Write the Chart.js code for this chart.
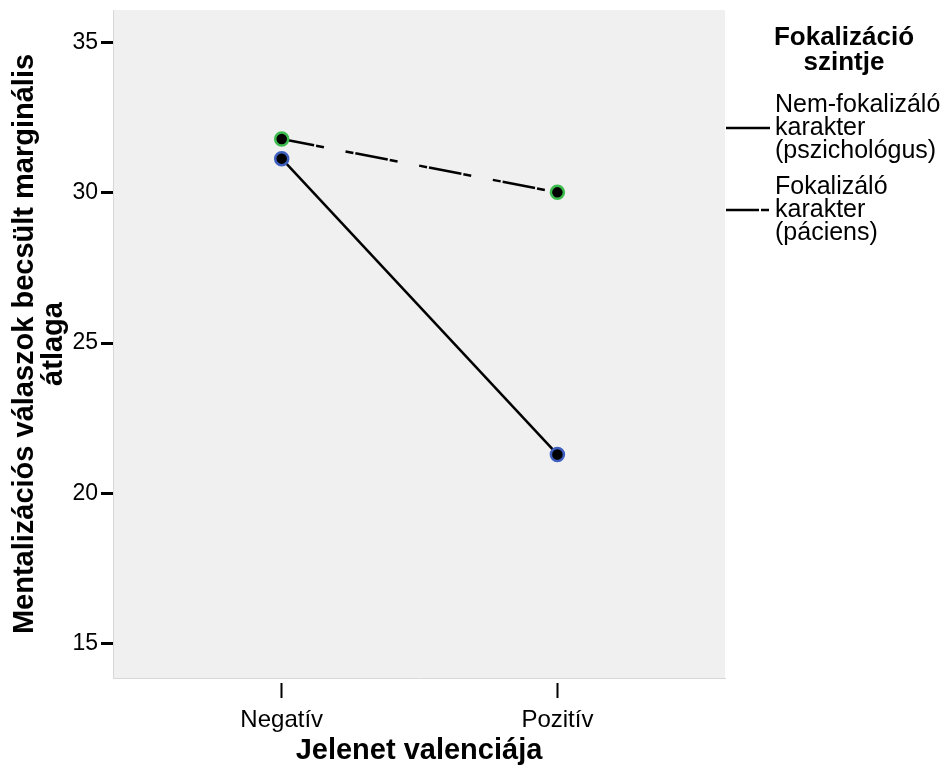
<!DOCTYPE html>
<html>
<head>
<meta charset="utf-8">
<script src="https://cdn.jsdelivr.net/npm/chart.js@4"></script>
<style>
  html, body { margin: 0; padding: 0; background: #fff; }
  #wrap { width: 946px; height: 776px; }
</style>
</head>
<body>
<div id="wrap"><canvas id="valenciaChart" width="946" height="776"></canvas></div>
<script>
// adatok
const kategoriak = ["Negatív", "Pozitív"];
const nemFokalizalo = [31.13, 21.3];
const fokalizalo = [31.78, 30.01];
const yTickek = [15, 20, 25, 30, 35];
const sorozatNevek = [
    ["Nem-fokalizáló", "karakter", "(pszichológus)"],
    ["Fokalizáló", "karakter", "(páciens)"]
];
const legendCim = ["Fokalizáció", "szintje"];

const betu = "'Liberation Sans', Arial, sans-serif";
const szaggatas = [33, 2, 8, 22, 8, 2];

function pontok(arr) {
    return arr.map((v, i) => ({ x: i, y: v }));
}

// szürke háttér a rajzterületnek
const hatter = {
    id: "hatter",
    beforeDraw(chart) {
        const { ctx, chartArea: a } = chart;
        ctx.save();
        ctx.fillStyle = "#f0f0f0";
        ctx.fillRect(a.left, a.top, a.right - a.left, a.bottom - a.top);
        ctx.restore();
    }
};

// jelmagyarázat jobb oldalon
const jelmagyarazat = {
    id: "jelmagyarazat",
    afterDraw(chart) {
        const ctx = chart.ctx;
        ctx.save();
        ctx.fillStyle = "#000";
        ctx.textBaseline = "middle";
        ctx.textAlign = "center";
        ctx.font = "bold 26px " + betu;
        legendCim.forEach((s, i) => ctx.fillText(s, 844, 38 + i * 25));

        ctx.textAlign = "left";
        ctx.font = "25px " + betu;
        chart.data.datasets.forEach((ds, i) => {
            const yk = 128 + i * 82;
            ctx.strokeStyle = "#000";
            ctx.lineWidth = 2.5;
            ctx.setLineDash(ds.borderDash || []);
            ctx.beginPath();
            ctx.moveTo(726, yk);
            ctx.lineTo(770, yk);
            ctx.stroke();
            ctx.setLineDash([]);
            sorozatNevek[i].forEach((s, j) => ctx.fillText(s, 775, yk + (j - 1) * 23));
        });
        ctx.restore();
    }
};

const vaszon = document.getElementById("valenciaChart");
new Chart(vaszon, {
    type: "line",
    data: {
        datasets: [{
            label: sorozatNevek[0].join(" "),
            data: pontok(nemFokalizalo),
            borderColor: "#000",
            borderWidth: 2.5,
            pointRadius: 6.5,
            pointBorderWidth: 2.5,
            pointBackgroundColor: "#000",
            pointBorderColor: "#3e5fbf",
            tension: 0
        }, {
            label: sorozatNevek[1].join(" "),
            data: pontok(fokalizalo),
            borderColor: "#000",
            borderWidth: 2.5,
            borderDash: szaggatas,
            pointRadius: 6.5,
            pointBorderWidth: 2.5,
            pointBackgroundColor: "#000",
            pointBorderColor: "#3cbc4c",
            tension: 0
        }]
    },
    options: {
        responsive: false,
        animation: false,
        layout: { padding: { top: 10, right: 221, left: 0, bottom: 0 } },
        plugins: {
            legend: { display: false },
            tooltip: { enabled: false }
        },
        scales: {
            x: {
                type: "linear",
                min: -0.612,
                max: 1.608,
                afterBuildTicks: (ax) => { ax.ticks = kategoriak.map((c, i) => ({ value: i })); },
                afterFit: (ax) => { ax.height = 98; },
                border: { color: "#d8d8d8", width: 1 },
                grid: {
                    drawOnChartArea: false,
                    drawTicks: true,
                    tickLength: 20,
                    tickWidth: 2,
                    tickColor: "#000",
                    tickBorderDash: [0, 4, 16, 100]
                },
                ticks: {
                    color: "#000",
                    padding: 8,
                    font: { family: betu, size: 24 },
                    callback: (v) => kategoriak[v]
                },
                title: {
                    display: true,
                    text: "Jelenet valenciája",
                    color: "#000",
                    font: { family: betu, size: 29, weight: "bold", lineHeight: 1 },
                    padding: { top: 0, bottom: 11 }
                }
            },
            y: {
                min: 13.87,
                max: 36.07,
                afterBuildTicks: (ax) => { ax.ticks = yTickek.map(v => ({ value: v })); },
                afterFit: (ax) => {
                    ax.width = 113;
                    ax.paddingTop = 0;
                    ax.paddingBottom = 0;
                },
                border: { color: "#d8d8d8", width: 1 },
                grid: {
                    drawOnChartArea: false,
                    drawTicks: true,
                    tickLength: 12,
                    tickWidth: 3,
                    tickColor: "#000"
                },
                ticks: {
                    color: "#000",
                    padding: 3,
                    font: { family: betu, size: 23 }
                },
                title: {
                    display: true,
                    text: ["Mentalizációs válaszok becsült marginális", "átlaga"],
                    color: "#000",
                    font: { family: betu, size: 29, weight: "bold", lineHeight: 1 },
                    padding: { top: 10, bottom: 0 }
                }
            }
        }
    },
    plugins: [hatter, jelmagyarazat]
});
</script>
</body>
</html>
